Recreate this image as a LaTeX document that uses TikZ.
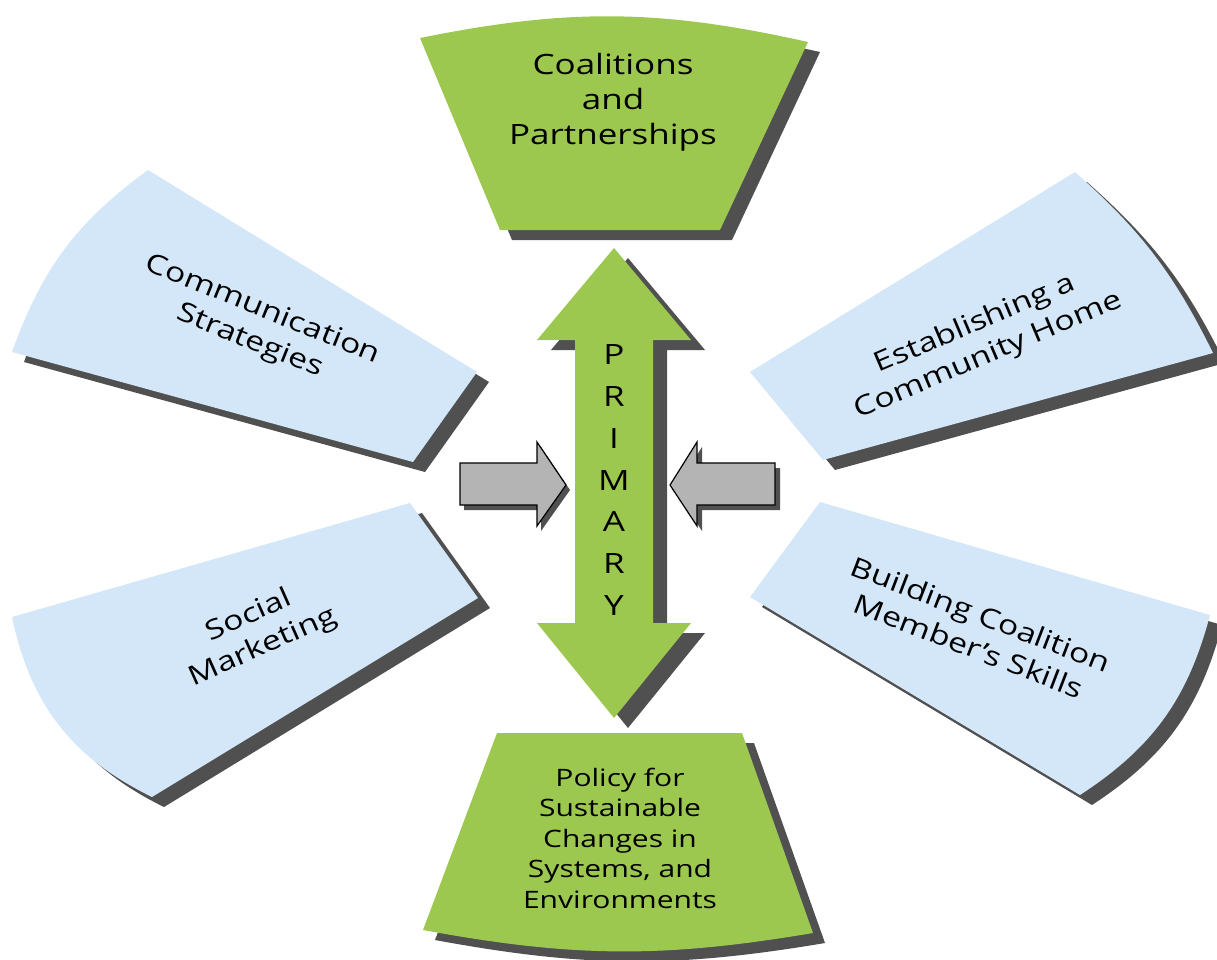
\documentclass[tikz,border=0pt]{standalone}
\usepackage{fontspec}
\setmainfont{Open Sans}[FakeStretch=1.25]

\definecolor{leafgreen}{RGB}{157,200,80}
\definecolor{paleblue}{RGB}{211,231,248}
\definecolor{dropgrey}{RGB}{80,80,80}
\definecolor{arrowgrey}{RGB}{180,180,180}

\tikzset{
  greenbox/.style={fill=leafgreen},
  bluebox/.style={fill=paleblue},
  dropshade/.style={fill=dropgrey},
  pusharrow/.style={fill=arrowgrey, draw=black, line width=1.2pt},
  blocklabel/.style={align=center, text=black, inner sep=0pt,
    font=\fontsize{27}{34}\selectfont},
}

\begin{document}
\begin{tikzpicture}[x=1pt,y=-1pt]
  \useasboundingbox (0,0) rectangle (1217,959);

  % top block
  \fill[dropshade,shift={(12,10)}] (420,38) to[bend left=12] (808,42) -- (720,230) -- (500,230) -- cycle;
  \fill[greenbox] (420,38) to[bend left=12] (808,42) -- (720,230) -- (500,230) -- cycle;

  % bottom block
  \fill[dropshade,shift={(12,10)}] (497,733) -- (742,733) -- (813,933) to[bend left=10] (423,930) -- cycle;
  \fill[greenbox] (497,733) -- (742,733) -- (813,933) to[bend left=10] (423,930) -- cycle;

  % side blocks
  \fill[dropshade,shift={(12,10)}] (148,170) -- (477,372) -- (413,462) -- (12,352) to[bend left=17] cycle;
  \fill[bluebox] (148,170) -- (477,372) -- (413,462) -- (12,352) to[bend left=17] cycle;

  \fill[dropshade,shift={(12,10)}] (1075,172) to[bend left=11] (1213,353) -- (823,460) -- (750,372) -- cycle;
  \fill[bluebox] (1075,172) to[bend left=11] (1213,353) -- (823,460) -- (750,372) -- cycle;

  \fill[dropshade,shift={(12,10)}] (410,503) -- (478,598) -- (152,797) to[bend left=26] (12,617) -- cycle;
  \fill[bluebox] (410,503) -- (478,598) -- (152,797) to[bend left=26] (12,617) -- cycle;

  \fill[dropshade,shift={(12,10)}] (820,502) -- (1210,615) to[bend left=21] (1080,795) -- (750,597) -- cycle;
  \fill[bluebox] (820,502) -- (1210,615) to[bend left=21] (1080,795) -- (750,597) -- cycle;

  % double arrow
  \fill[dropshade,shift={(14,10)}] (614,248) -- (691,340) -- (653,340) -- (653,623) -- (691,623)
    -- (614,718) -- (537,623) -- (575,623) -- (575,340) -- (537,340) -- cycle;
  \fill[greenbox] (614,248) -- (691,340) -- (653,340) -- (653,623) -- (691,623)
    -- (614,718) -- (537,623) -- (575,623) -- (575,340) -- (537,340) -- cycle;

  % grey arrows
  \fill[dropshade,shift={(4,5)}] (460,463) -- (537,463) -- (537,442) -- (566,485) -- (537,526) -- (537,505) -- (460,505) -- cycle;
  \filldraw[pusharrow] (460,463) -- (537,463) -- (537,442) -- (566,485) -- (537,526) -- (537,505) -- (460,505) -- cycle;
  \fill[dropshade,shift={(5,5)}] (775,463) -- (697,463) -- (697,442) -- (670,485) -- (697,526) -- (697,505) -- (775,505) -- cycle;
  \filldraw[pusharrow] (775,463) -- (697,463) -- (697,442) -- (670,485) -- (697,526) -- (697,505) -- (775,505) -- cycle;

  % labels
  \node[blocklabel, font=\fontsize{28}{35}\selectfont] (coal) at (613,102) {Coalitions\\and\\Partnerships};
  \node[blocklabel, font=\fontsize{24}{30.5}\selectfont] (policy) at (620,838)
    {Policy for\\Sustainable\\Changes in\\Systems, and\\Environments};
  \node[blocklabel, font=\fontsize{28}{41.7}\selectfont] (primary) at (614,480) {P\\R\\I\\M\\A\\R\\Y};
  \node[blocklabel, rotate=-22] (comm) at (256,326) {Communication\\Strategies};
  \node[blocklabel, rotate=23] (estab) at (982,340) {Establishing a\\Community Home};
  \node[blocklabel, rotate=24] (social) at (256,632) {Social\\Marketing};
  \node[blocklabel, rotate=-21] (build) at (975,630) {Building Coalition\\Member’s Skills};
\end{tikzpicture}
\end{document}
